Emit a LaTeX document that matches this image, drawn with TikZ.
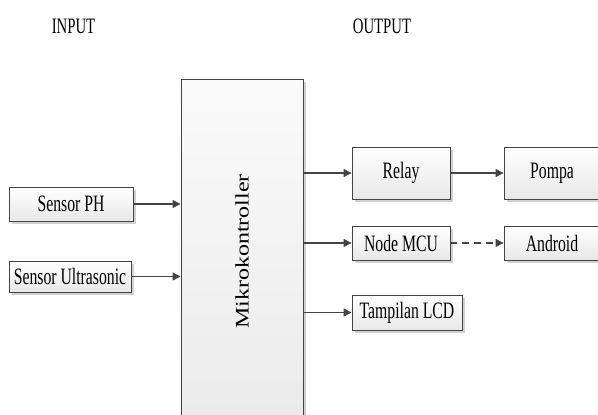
\documentclass[tikz,border=0pt]{standalone}
\usepackage{fontspec}
\setmainfont{Liberation Serif}[FakeStretch=0.67]
\newfontfamily\tegak{Liberation Serif}
\usetikzlibrary{arrows.meta, shadows}

\definecolor{garis}{HTML}{444444}

\providecommand{\keluaran}[1]{
    \draw[panah] (MK.east |- #1) -- (#1.west);
}

\begin{document}
\begin{tikzpicture}[
    x=1pt, y=-1pt,
    blok/.style={draw=garis, line width=0.9pt, top color=white, bottom color=black!9, inner sep=1pt,
        drop shadow={shadow xshift=2.5pt, shadow yshift=-2.5pt, fill=black!18, opacity=1},
        font=\fontsize{23.5}{26}\selectfont, align=center},
    judul/.style={font=\fontsize{22}{24}\selectfont},
    panah/.style={draw=garis, line width=1.5pt, -{Triangle[length=8pt, width=8pt]}}
]
    \useasboundingbox (0,0) rectangle (598,415);

    % JUDUL
    \node[judul] (IN) at (73.5,26) {INPUT};
    \node[judul] (OUT) at (382,26) {OUTPUT};

    % MIKROKONTROLLER
    \node[blok, top color=black!2, bottom color=black!8, minimum width=122, minimum height=345] (MK) at (242,251.5)
        {\rotatebox{90}{\scalebox{1}[0.8]{\tegak\fontsize{24}{24}\selectfont Mikrokontroller}}};

    % INPUT
    \node[blok, minimum width=124, minimum height=34] (SPH) at (71,204) {Sensor PH};
    \node[blok, minimum width=122, minimum height=31] (SUS) at (70,276.5) {Sensor Ultrasonic};
    \draw[panah] (SPH.east) -- (MK.west |- SPH);
    \draw[panah] (SUS.east) -- (MK.west |- SUS);

    % OUTPUT
    \node[blok, minimum width=98, minimum height=52] (RL) at (401,173) {Relay};
    \node[blok, minimum width=96, minimum height=52] (PM) at (552,173) {Pompa};
    \node[blok, minimum width=98, minimum height=34] (NM) at (401,243) {Node MCU};
    \node[blok, minimum width=96, minimum height=34] (AD) at (552,243) {Android};
    \node[blok, minimum width=110, minimum height=35] (LCD) at (407,312.5) {Tampilan LCD};

    \keluaran{RL}
    \keluaran{NM}
    \keluaran{LCD}
    \draw[panah] (RL) -- (PM);
    \draw[panah, dash pattern=on 7pt off 5pt] (NM) -- (AD);

\end{tikzpicture}
\end{document}
